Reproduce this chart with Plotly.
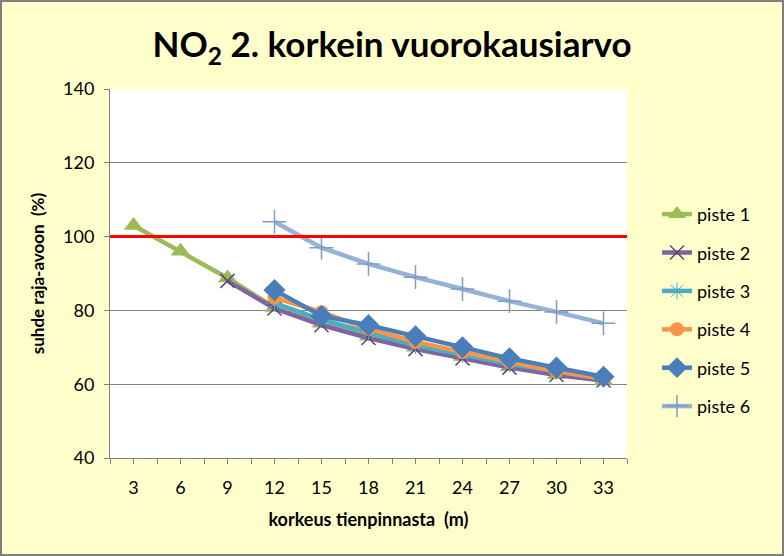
import plotly.graph_objects as go

heights = [3, 6, 9, 12, 15, 18, 21, 24, 27, 30, 33]
piste1 = [103, 96, 88.8, 80.8, 76.5, 73, 70, 67.5, 64.7, 62.6, 61]
piste2 = [None, None, 88, 80.5, 76, 72.5, 69.5, 67, 64.5, 62.5, 61]
piste3 = [None, None, None, 82, 77.5, 74, 70.5, 68, 65.5, 63.5, 61.5]
piste4 = [None, None, None, 83.5, 79.5, 75, 71.5, 68.7, 66, 63.5, 61.5]
piste5 = [None, None, None, 85.5, 78.5, 76, 73, 70, 67, 64.5, 62]
piste6 = [None, None, None, 104, 97, 92.6, 89, 85.8, 82.5, 79.6, 76.5]
limit_value = 100
tick_labels = [str(h) for h in heights]
y_ticks = [40, 60, 80, 100, 120, 140]

series = [
    ("piste 1", piste1, "#9BBB59", dict(symbol="triangle-up", size=17)),
    ("piste 2", piste2, "#8064A2", dict(symbol="x-thin", size=14, line=dict(width=1.5, color="#5a4a70"))),
    ("piste 3", piste3, "#4BACC6", dict(symbol="asterisk", size=14, line=dict(width=1, color="#4BACC6"))),
    ("piste 4", piste4, "#F79646", dict(symbol="circle", size=14)),
    ("piste 5", piste5, "#4A7EBB", dict(symbol="diamond", size=17)),
    ("piste 6", piste6, "#95B3D7", dict(symbol="cross-thin", size=17, line=dict(width=1.5, color="#7f9cc4"))),
]

fig = go.Figure()
for i, (name, vals, color, marker) in enumerate(series):
    m = dict(color=color)
    m.update(marker)
    fig.add_trace(go.Scatter(x=heights, y=vals, name=name, mode="lines+markers",
                             line=dict(color=color, width=4.5), marker=m,
                             legendgroup=f"g{i}", connectgaps=False))

fig.add_shape(type="line", xref="x domain", yref="y", x0=0, x1=1,
              y0=limit_value, y1=limit_value, line=dict(color="#FF0000", width=3))

W, H = 784, 556
ml, mr, mt, mb = 110, 157, 89, 98
pw, ph = W - ml - mr, H - mt - mb
fig.add_shape(type="rect", xref="paper", yref="paper",
              x0=-(ml - 1) / pw, x1=(W - ml - 1) / pw,
              y0=-(mb - 1) / ph, y1=(H - mb - 1) / ph,
              line=dict(color="#808080", width=2), layer="below")

font = "Lato, 'Open Sans', sans-serif"
fig.update_layout(
    width=W, height=H,
    margin=dict(l=ml, r=mr, t=mt, b=mb),
    paper_bgcolor="#FFFFCC", plot_bgcolor="#FFFFFF",
    font=dict(family=font, color="#000000", size=17),
    title=dict(text="<b>NO<sub>2</sub> 2. korkein vuorokausiarvo</b>", x=0.5, xanchor="center",
               y=1 - 45 / H, yanchor="middle", font=dict(size=35, family=font)),
    showlegend=True,
    legend=dict(x=1.058, xanchor="left", y=0.40, yanchor="middle", font=dict(size=18),
                bgcolor="rgba(0,0,0,0)", tracegroupgap=12, itemsizing="trace"),
    xaxis=dict(range=[1.5, 34.5], tickvals=heights, ticktext=tick_labels,
               ticks="outside", ticklen=5, tickcolor="#808080", showgrid=False,
               minor=dict(tick0=1.5, dtick=1.5, ticks="outside", ticklen=5,
                          tickcolor="#808080", showgrid=False),
               showline=True, linecolor="#808080", linewidth=1, zeroline=False,
               tickfont=dict(size=18), ticklabelstandoff=8,
               title=dict(text="<b>korkeus tienpinnasta  (m)</b>", font=dict(size=18), standoff=16)),
    yaxis=dict(range=[40, 140], tickvals=y_ticks, ticks="outside", ticklen=5,
               tickcolor="#808080", showgrid=True, gridcolor="#808080", gridwidth=1,
               showline=True, linecolor="#808080", linewidth=1, zeroline=False,
               tickfont=dict(size=18), ticklabelstandoff=6,
               title=dict(text="<b>suhde raja-avoon  (%)</b>", font=dict(size=17), standoff=14)),
)
fig.write_html("out.html")
